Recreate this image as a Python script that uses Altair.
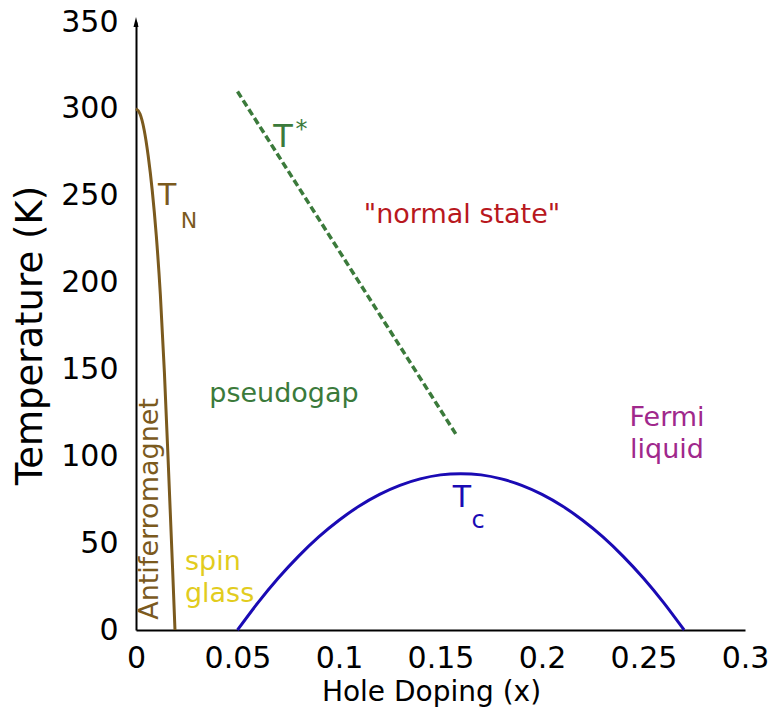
import altair as alt
import pandas as pd

# Néel temperature curve T_N (x, K)
tn_x = [0.0, 0.002, 0.004, 0.006, 0.008, 0.010, 0.012, 0.014, 0.016, 0.018, 0.0192]
tn_t = [300, 297, 288, 273, 253, 227, 193, 148, 93, 36, 0]

# Superconducting dome T_c
tc_x = [0.05, 0.06, 0.07, 0.08, 0.09, 0.10, 0.11, 0.12, 0.13, 0.14, 0.15, 0.16,
        0.17, 0.18, 0.19, 0.20, 0.21, 0.22, 0.23, 0.24, 0.25, 0.26, 0.27]
tc_t = [0, 15.6, 29.8, 42.4, 53.6, 63.2, 71.4, 78.1, 83.3, 87.0, 89.3, 90,
        89.3, 87.0, 83.3, 78.1, 71.4, 63.2, 53.6, 42.4, 29.8, 15.6, 0]

# Pseudogap line T*
ts_x = [0.05, 0.158]
ts_t = [310, 112]

x_ticks = [0, 0.05, 0.1, 0.15, 0.2, 0.25, 0.3]
y_ticks = [0, 50, 100, 150, 200, 250, 300, 350]

# annotations: text, x, y, size, color, align, angle
ann_text = ["T", "*", "T", "N", "T", "c", '"normal state"', "pseudogap", "Fermi", "liquid", "spin", "glass", "Antiferromagnet"]
ann_x = [0.0724, 0.0815, 0.0153, 0.0261, 0.1606, 0.1685, 0.1606, 0.0729, 0.2616, 0.2616, 0.0241, 0.0241, 0.0108]
ann_y = [278.1, 284.0, 244.7, 231.4, 70.8, 58.7, 234.3, 131.3, 117.4, 99.0, 34.5, 16.1, 69.7]
ann_size = [32, 24, 30, 22, 30, 24, 27, 27, 27, 27, 27, 27, 27]
ann_color = ["#3b7a3b", "#3b7a3b", "#7b5a1e", "#7b5a1e", "#1a0ab4", "#1a0ab4", "#b8181e",
             "#3b7a3b", "#a0288c", "#a0288c", "#e2cc1e", "#e2cc1e", "#7b5a1e"]
ann_align = ["center"] * 10 + ["left", "left", "center"]
ann_angle = [0] * 12 + [270]

FONT = "DejaVu Sans"

xs = alt.Scale(domain=[0, 0.3], nice=False, zero=False)
ys = alt.Scale(domain=[0, 350], nice=False, zero=False)

x_axis = alt.Axis(values=x_ticks, format="~g", title="Hole Doping (x)", grid=False, ticks=False,
                  tickSize=0, labelPadding=13, labelFontSize=30, labelFont=FONT, labelColor="black",
                  domainColor="black", domainWidth=2, titleFont=FONT, titleFontSize=28,
                  titleFontWeight="normal", titleColor="black", titleX=295, titleY=62,
                  titleBaseline="middle", titleAlign="center", labelFlush=False)
y_axis = alt.Axis(values=y_ticks, title="Temperature (K)", grid=False, ticks=False,
                  tickSize=0, labelPadding=18, labelFontSize=30, labelFont=FONT, labelColor="black",
                  domainColor="black", domainWidth=2, titleFont=FONT, titleFontSize=37,
                  titleFontWeight="normal", titleColor="black", titleX=-106, titleY=313,
                  titleAngle=270, titleBaseline="middle", titleAlign="center", labelFlush=False)

tn_df = pd.DataFrame({"x": tn_x, "t": tn_t})
tc_df = pd.DataFrame({"x": tc_x, "t": tc_t})
ts_df = pd.DataFrame({"x": ts_x, "t": ts_t})

tn = alt.Chart(tn_df).mark_line(color="#7b5a1e", strokeWidth=3, interpolate="monotone").encode(
    x=alt.X("x:Q", scale=xs, axis=x_axis), y=alt.Y("t:Q", scale=ys, axis=y_axis), order="x:Q")
tc = alt.Chart(tc_df).mark_line(color="#1a0ab4", strokeWidth=3, interpolate="natural").encode(
    x=alt.X("x:Q", scale=xs), y=alt.Y("t:Q", scale=ys))
ts = alt.Chart(ts_df).mark_line(color="#3b7a3b", strokeWidth=3.5, strokeDash=[7, 3.5]).encode(
    x=alt.X("x:Q", scale=xs), y=alt.Y("t:Q", scale=ys))

arrow = alt.Chart(pd.DataFrame({"x": [0.0], "t": [350]})).mark_point(
    shape="M0,-1L0.5,1L-0.5,1Z", size=100, filled=True, color="black", opacity=1).encode(
    x=alt.X("x:Q", scale=xs), y=alt.Y("t:Q", scale=ys))

layers = [tn, tc, ts, arrow]
for i in range(len(ann_text)):
    d = pd.DataFrame({"x": [ann_x[i]], "t": [ann_y[i]], "label": [ann_text[i]]})
    layers.append(alt.Chart(d).mark_text(
        font=FONT, fontSize=ann_size[i], color=ann_color[i], align=ann_align[i],
        baseline="alphabetic", angle=ann_angle[i]).encode(
        x=alt.X("x:Q", scale=xs), y=alt.Y("t:Q", scale=ys), text="label:N"))

chart = alt.layer(*layers).properties(
    width=609, height=608,
    autosize=alt.AutoSizeParams(type="none"),
    padding={"left": 136, "top": 22, "right": 29, "bottom": 89},
    background="white",
).configure_view(stroke=None)

chart.save("out.html", embed_options={"renderer": "svg", "actions": False})
